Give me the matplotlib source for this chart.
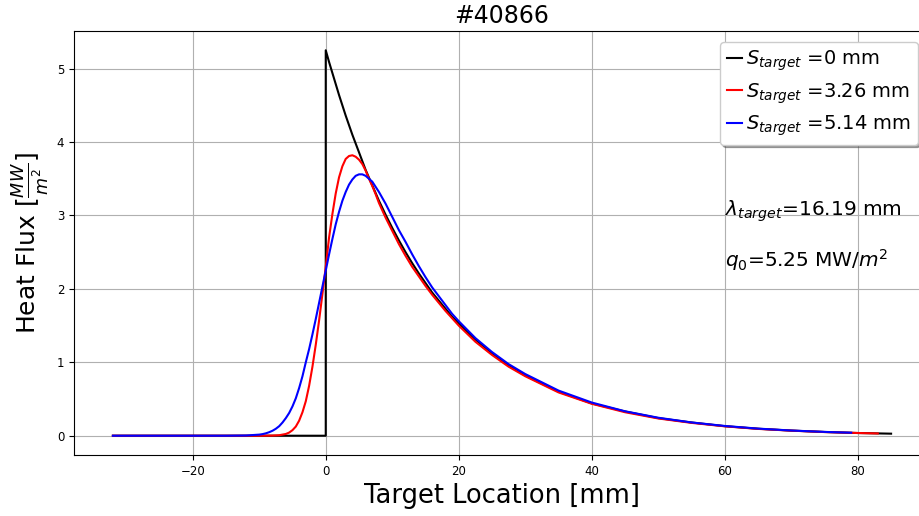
import matplotlib
matplotlib.use("Agg")
import matplotlib.pyplot as plt

# ---- data ----
s_black = [-32, 0, 0, 0.5, 1, 1.5, 2, 2.5, 3, 3.5, 4, 4.5, 5, 5.5, 6, 7, 8, 9, 10, 11, 12,
           13, 14, 15, 16, 17, 18, 19, 20, 22.5, 25, 27.5, 30, 35, 40, 45, 50, 55, 60, 65,
           70, 75, 80, 85]
q_black = [0, 0, 5.25, 5.09, 4.94, 4.79, 4.64, 4.50, 4.36, 4.23, 4.10, 3.98, 3.86, 3.74,
           3.62, 3.41, 3.20, 3.01, 2.83, 2.66, 2.50, 2.35, 2.21, 2.08, 1.95, 1.84, 1.73,
           1.62, 1.53, 1.31, 1.12, 0.96, 0.82, 0.60, 0.44, 0.33, 0.24, 0.18, 0.13, 0.095,
           0.070, 0.051, 0.037, 0.028]

s_red = [-32, -10, -8, -7, -6, -5.5, -5, -4.5, -4, -3.5, -3, -2.5, -2, -1.5, -1, -0.5, 0,
         0.5, 1, 1.5, 2, 2.5, 3, 3.5, 4, 4.5, 5, 5.5, 6, 6.5, 7, 7.5, 8, 9, 10, 11, 12, 13,
         14, 15, 16, 17, 18, 19, 20, 22.5, 25, 27.5, 30, 35, 40, 45, 50, 55, 60, 65, 70,
         75, 80, 83]
q_red = [0, 0, 0.002, 0.007, 0.024, 0.043, 0.076, 0.125, 0.205, 0.32, 0.47, 0.68, 0.94,
         1.24, 1.57, 1.93, 2.30, 2.70, 3.02, 3.30, 3.52, 3.67, 3.77, 3.81, 3.82, 3.80, 3.76,
         3.70, 3.61, 3.50, 3.40, 3.29, 3.17, 2.97, 2.79, 2.61, 2.45, 2.30, 2.17, 2.04, 1.92,
         1.81, 1.70, 1.60, 1.50, 1.28, 1.10, 0.94, 0.81, 0.59, 0.435, 0.32, 0.235, 0.175,
         0.128, 0.093, 0.069, 0.050, 0.037, 0.031]

s_blue = [-32, -15, -12, -10, -9.5, -9, -8.5, -8, -7.5, -7, -6.5, -6, -5.5, -5, -4.5, -4,
          -3.5, -3, -2.5, -2, -1.5, -1, -0.5, 0, 0.5, 1, 1.5, 2, 2.5, 3, 3.5, 4, 4.5, 5,
          5.5, 6, 7, 8, 9, 10, 11, 12, 13, 14, 15, 16, 17, 18, 19, 20, 22.5, 25, 27.5, 30,
          35, 40, 45, 50, 55, 60, 65, 70, 75, 79]
q_blue = [0, 0, 0.003, 0.015, 0.022, 0.033, 0.048, 0.068, 0.095, 0.13, 0.18, 0.24, 0.31,
          0.40, 0.51, 0.65, 0.81, 1.00, 1.18, 1.38, 1.59, 1.81, 2.03, 2.25, 2.47, 2.68,
          2.88, 3.05, 3.20, 3.32, 3.42, 3.49, 3.54, 3.56, 3.56, 3.54, 3.46, 3.32, 3.16,
          2.98, 2.80, 2.64, 2.47, 2.31, 2.16, 2.02, 1.90, 1.78, 1.66, 1.56, 1.33, 1.14,
          0.975, 0.84, 0.615, 0.452, 0.333, 0.245, 0.181, 0.133, 0.097, 0.071, 0.052, 0.041]

labels = [r"$S_{target}$ =0 mm", r"$S_{target}$ =3.26 mm", r"$S_{target}$ =5.14 mm"]
colors = ["black", "red", "blue"]
title = "#40866"
lam_text = r"$\lambda_{target}$=16.19 mm"
q0_text = r"$q_0$=5.25 MW/$m^2$"

fig = plt.figure(figsize=(9.2, 5.16), dpi=100)
ax = fig.add_axes([74 / 920, (516 - 455) / 516, (930 - 74) / 920, (455 - 31) / 516])

for s, q, lab, c in zip([s_black, s_red, s_blue], [q_black, q_red, q_blue], labels, colors):
    ax.plot(s, q, color=c, lw=1.5, label=lab)

ax.set_xlim(-37.85, 90.85)
ax.set_ylim(-0.2625, 5.5125)
ax.spines["right"].set_visible(False)
ax.grid(True, color="#b0b0b0", lw=0.8)
ax.tick_params(labelsize=8.5)
ax.set_title(title, fontsize=17)
ax.set_xlabel("Target Location [mm]", fontsize=18.5)
ax.set_ylabel(r"Heat Flux [$\frac{MW}{m^2}$]", fontsize=18)

ax.text(60, 3.0, lam_text, fontsize=14.5, ha="left", va="baseline")
ax.text(60, 2.3, q0_text, fontsize=14.5, ha="left", va="baseline")

leg = ax.legend(loc="upper right", fontsize=14, shadow=True, handlelength=0.8,
                handletextpad=0.2, borderpad=0.35, labelspacing=0.4,
                bbox_to_anchor=(918 / 920, 1 - 42 / 516), bbox_transform=fig.transFigure,
                borderaxespad=0)

fig.savefig("out.png", dpi=100)
